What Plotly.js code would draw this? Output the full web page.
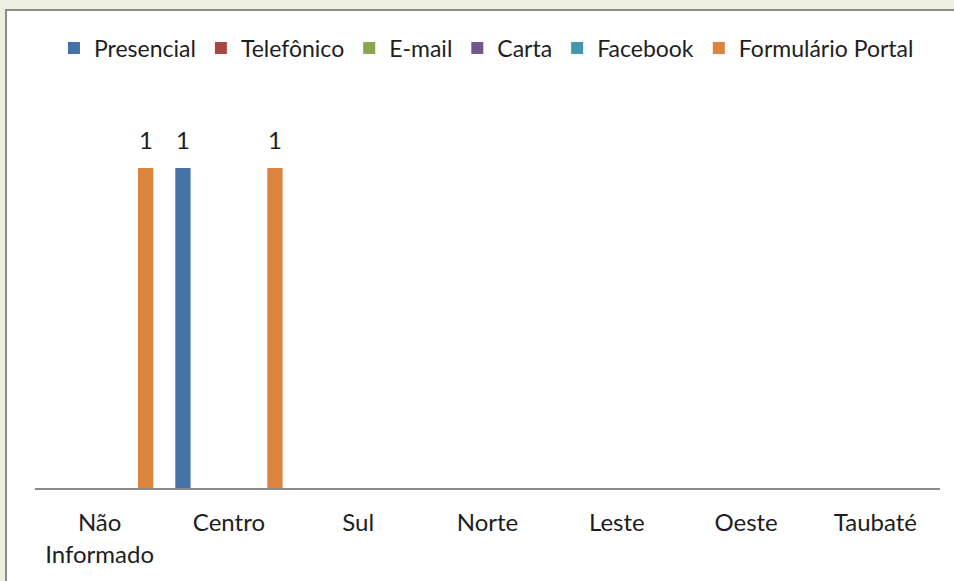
<!DOCTYPE html>
<html>
<head>
<meta charset="utf-8">
<script src="https://cdn.plot.ly/plotly-3.0.1.min.js"></script>
<style>
  html, body { margin: 0; padding: 0; background: #EBF1DE; overflow: hidden; width: 954px; height: 581px; }
  #chart { position: absolute; left: 5px; top: 9px; width: 947px; height: 570px;
           border-left: 2px solid #8c8c8c; border-top: 2px solid #8c8c8c; background: #fff; }
</style>
</head>
<body>
<div id="chart"></div>
<script>
const categories = ['Não<br>Informado', 'Centro', 'Sul', 'Norte', 'Leste', 'Oeste', 'Taubaté'];
const seriesNames = ['Presencial', 'Telefônico', 'E-mail', 'Carta', 'Facebook', 'Formulário Portal'];
const presencial       = [0, 1, 0, 0, 0, 0, 0];
const telefonico       = [0, 0, 0, 0, 0, 0, 0];
const email            = [0, 0, 0, 0, 0, 0, 0];
const carta            = [0, 0, 0, 0, 0, 0, 0];
const facebook         = [0, 0, 0, 0, 0, 0, 0];
const formularioPortal = [1, 1, 0, 0, 0, 0, 0];
const seriesValues = [presencial, telefonico, email, carta, facebook, formularioPortal];
const colors = ['#4572A7', '#AA4643', '#89A54E', '#71588F', '#4198AF', '#DB843D'];

const FONT = 'Lato, "Open Sans", sans-serif';
const TXT = '#1e1e1e';
const bargap = 0.146;

const traces = seriesNames.map((name, j) => ({
  type: 'bar',
  name: name,
  x: categories,
  y: seriesValues[j],
  marker: { color: colors[j] },
  hoverinfo: 'none'
}));

const slot = (1 - bargap) / seriesNames.length;
const annotations = [];
seriesValues.forEach((vals, j) => {
  vals.forEach((v, i) => {
    if (v > 0) {
      annotations.push({
        x: i + (j - (seriesNames.length - 1) / 2) * slot,
        y: v,
        xref: 'x', yref: 'y',
        text: String(v),
        showarrow: false,
        yanchor: 'bottom',
        yshift: 12,
        font: { family: FONT, size: 24, color: TXT }
      });
    }
  });
});

const layout = {
  width: 947,
  height: 570,
  margin: { l: 28, r: 14, t: 93, b: 93 },
  paper_bgcolor: '#ffffff',
  plot_bgcolor: '#ffffff',
  barmode: 'group',
  bargap: bargap,
  bargroupgap: 0.17,
  font: { family: FONT, size: 24, color: TXT },
  showlegend: true,
  legend: {
    orientation: 'h',
    xref: 'container', yref: 'container',
    x: 0.5063, xanchor: 'center',
    y: 0.935, yanchor: 'middle',
    font: { family: FONT, size: 23, color: TXT },
    itemclick: false, itemdoubleclick: false,
    traceorder: 'normal'
  },
  xaxis: {
    type: 'category',
    showline: true, linecolor: '#8a8a8a', linewidth: 1.5,
    showgrid: false, zeroline: false,
    ticks: '',
    ticklabelstandoff: 13,
    tickfont: { family: FONT, size: 24, color: TXT },
    fixedrange: true
  },
  yaxis: {
    range: [0, 1.2],
    visible: false,
    showgrid: false, zeroline: false,
    fixedrange: true
  },
  annotations: annotations
};

Plotly.newPlot('chart', traces, layout, { displayModeBar: false, staticPlot: true });
</script>
</body>
</html>
